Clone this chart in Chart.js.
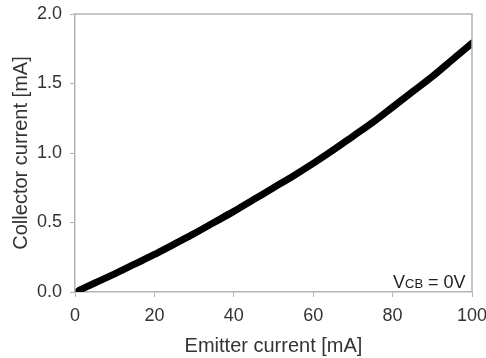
<!DOCTYPE html>
<html>
<head>
<meta charset="utf-8">
<script src="https://cdn.jsdelivr.net/npm/chart.js@4/dist/chart.umd.min.js"></script>
<style>
  html, body { margin: 0; padding: 0; background: #fff; }
  #wrap { width: 486px; height: 358px; }
</style>
</head>
<body>
<div id="wrap"><canvas id="chart" width="486" height="358"></canvas></div>
<script>
// emitter current [mA] and collector current [mA]
const emitterCurrent = [1, 5, 10, 15, 20, 25, 30, 35, 40, 45, 50, 55, 60, 65, 70, 75, 80, 85, 90, 95, 100];
const collectorCurrent = [0.012, 0.065, 0.13, 0.2, 0.27, 0.345, 0.42, 0.5, 0.58, 0.665, 0.75, 0.835, 0.925, 1.02, 1.12, 1.22, 1.33, 1.44, 1.55, 1.67, 1.79];
const xTicks = [0, 20, 40, 60, 80, 100];
const yTicks = [0, 0.5, 1.0, 1.5, 2.0];

const points = emitterCurrent.map((x, i) => ({ x: x, y: collectorCurrent[i] }));
const FONT = "'Liberation Sans', Arial, sans-serif";

const frameAndNote = {
  id: "frameAndNote",
  afterDraw(chart) {
    const ctx = chart.ctx;
    const a = chart.chartArea;
    ctx.save();
    ctx.strokeStyle = "#b4b4b4";
    ctx.lineWidth = 1.5;
    ctx.beginPath();
    ctx.moveTo(a.left, a.top);
    ctx.lineTo(a.right, a.top);
    ctx.lineTo(a.right, a.bottom);
    ctx.stroke();

    // V_CB = 0V note
    ctx.fillStyle = "#222";
    ctx.textBaseline = "alphabetic";
    ctx.textAlign = "left";
    let x = 393, y = 288;
    ctx.font = "18px " + FONT;
    ctx.fillText("V", x, y);
    x += ctx.measureText("V").width;
    ctx.font = "13px " + FONT;
    ctx.fillText("CB", x, y);
    x += ctx.measureText("CB").width;
    ctx.font = "18px " + FONT;
    ctx.fillText(" = 0V", x, y);
    ctx.restore();
  }
};

new Chart(document.getElementById("chart").getContext("2d"), {
  type: "scatter",
  data: {
    datasets: [{
      data: points,
      showLine: true,
      borderColor: "#000",
      backgroundColor: "#000",
      borderWidth: 7,
      borderCapStyle: "round",
      borderJoinStyle: "round",
      pointRadius: 0,
      cubicInterpolationMode: "monotone"
    }]
  },
  options: {
    responsive: false,
    animation: false,
    layout: { padding: { top: 14, right: 14, left: 0, bottom: 0 } },
    plugins: { legend: { display: false }, tooltip: { enabled: false } },
    scales: {
      x: {
        type: "linear",
        min: 0, max: 100,
        afterBuildTicks: axis => { axis.ticks = xTicks.map(v => ({ value: v })); },
        afterFit: axis => { axis.height = 66; axis.paddingLeft = 0; axis.paddingRight = 0; },
        grid: { drawOnChartArea: false, color: "#b4b4b4", tickLength: 5 },
        border: { color: "#b4b4b4", width: 1.5 },
        ticks: { color: "#333", padding: 8, font: { family: FONT, size: 18 } },
        title: {
          display: true, text: "Emitter current [mA]", color: "#333",
          font: { family: FONT, size: 20 },
          padding: { top: 0, bottom: 0 }
        }
      },
      y: {
        type: "linear",
        min: 0, max: 2,
        afterBuildTicks: axis => { axis.ticks = yTicks.map(v => ({ value: v })); },
        afterFit: axis => { axis.width = 75; axis.paddingTop = 0; axis.paddingBottom = 0; },
        grid: { drawOnChartArea: false, color: "#b4b4b4", tickLength: 5 },
        border: { color: "#b4b4b4", width: 1.5 },
        ticks: {
          color: "#333", padding: 8,
          font: { family: FONT, size: 18 },
          callback: v => v.toFixed(1)
        },
        title: {
          display: true, text: "Collector current [mA]", color: "#333",
          font: { family: FONT, size: 20 },
          padding: { top: 9, bottom: 0 }
        }
      }
    }
  },
  plugins: [frameAndNote]
});
</script>
</body>
</html>
